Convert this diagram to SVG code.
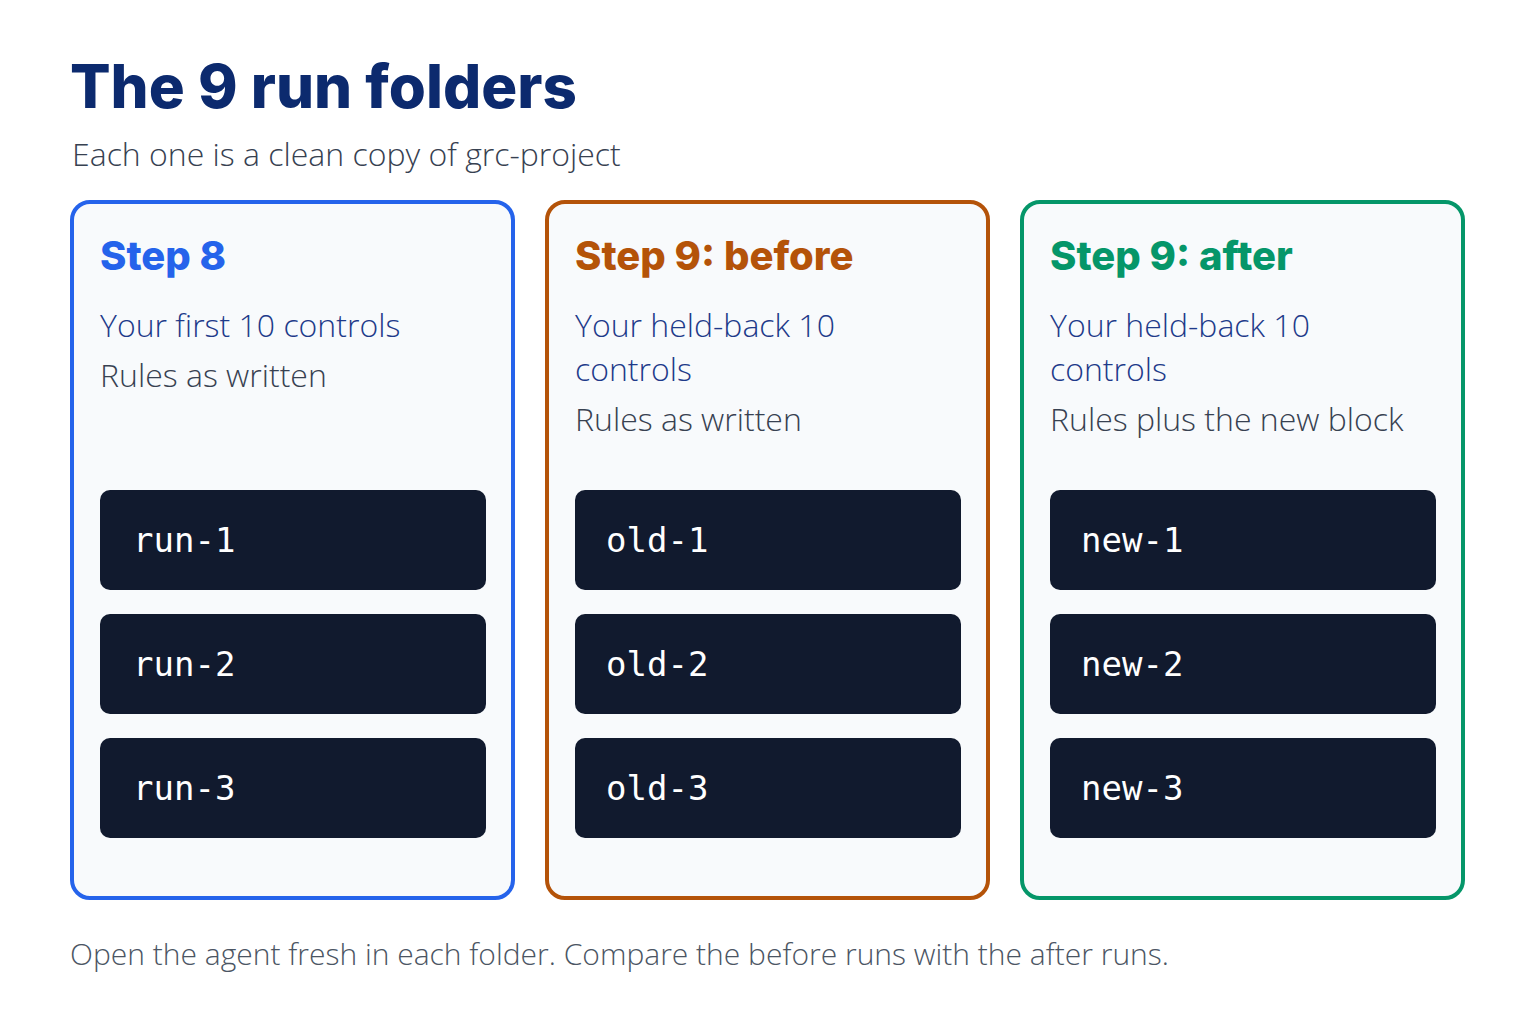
<svg xmlns="http://www.w3.org/2000/svg" width="1536" height="1024" viewBox="0 0 1536 1024">
<style>
.title{font-family:Inter,"Noto Sans",sans-serif;font-weight:800;font-size:60px;fill:#0c2a6e}
.sub{font-family:"Open Sans","Noto Sans",sans-serif;font-weight:300;font-size:32px;fill:#374151}
.card{fill:#f8fafc;stroke-width:4}
.head{font-family:Inter,"Noto Sans",sans-serif;font-weight:800;font-size:40px}
.l1{font-family:"Open Sans","Noto Sans",sans-serif;font-weight:300;font-size:32px;fill:#1e3a8a}
.l2{font-family:"Open Sans","Noto Sans",sans-serif;font-weight:300;font-size:32px;fill:#374151}
.box{fill:#111a2e}
.mono{font-family:"DejaVu Sans Mono","Liberation Mono",monospace;font-size:34px;fill:#ffffff}
.foot{font-family:"Open Sans","Noto Sans",sans-serif;font-weight:300;font-size:30px;fill:#4b5563}
</style>
<rect width="1536" height="1024" fill="#ffffff"/>
<text class="title" x="70" y="108">The 9 run folders</text>
<text class="sub" x="72" y="166">Each one is a clean copy of grc-project</text>
<g id="step8">
<rect class="card" x="72" y="202" width="441" height="696" rx="18" stroke="#2563eb"/>
<text class="head" x="100" y="270" fill="#2563eb">Step 8</text>
<text class="l1" x="100" y="337">Your first 10 controls</text>
<text class="l2" x="100" y="387">Rules as written</text>
<rect class="box" x="100" y="490" width="386" height="100" rx="10"/><text class="mono" x="133" y="552">run-1</text>
<rect class="box" x="100" y="614" width="386" height="100" rx="10"/><text class="mono" x="133" y="676">run-2</text>
<rect class="box" x="100" y="738" width="386" height="100" rx="10"/><text class="mono" x="133" y="800">run-3</text>
</g>
<g id="step9before">
<rect class="card" x="547" y="202" width="441" height="696" rx="18" stroke="#b45309"/>
<text class="head" x="575" y="270" fill="#b45309">Step 9: before</text>
<text class="l1" x="575" y="337">Your held-back 10</text>
<text class="l1" x="575" y="381">controls</text>
<text class="l2" x="575" y="431">Rules as written</text>
<rect class="box" x="575" y="490" width="386" height="100" rx="10"/><text class="mono" x="606" y="552">old-1</text>
<rect class="box" x="575" y="614" width="386" height="100" rx="10"/><text class="mono" x="606" y="676">old-2</text>
<rect class="box" x="575" y="738" width="386" height="100" rx="10"/><text class="mono" x="606" y="800">old-3</text>
</g>
<g id="step9after">
<rect class="card" x="1022" y="202" width="441" height="696" rx="18" stroke="#059669"/>
<text class="head" x="1050" y="270" fill="#059669">Step 9: after</text>
<text class="l1" x="1050" y="337">Your held-back 10</text>
<text class="l1" x="1050" y="381">controls</text>
<text class="l2" x="1050" y="431">Rules plus the new block</text>
<rect class="box" x="1050" y="490" width="386" height="100" rx="10"/><text class="mono" x="1081" y="552">new-1</text>
<rect class="box" x="1050" y="614" width="386" height="100" rx="10"/><text class="mono" x="1081" y="676">new-2</text>
<rect class="box" x="1050" y="738" width="386" height="100" rx="10"/><text class="mono" x="1081" y="800">new-3</text>
</g>
<g id="connectors"/>
<text class="foot" x="70" y="965">Open the agent fresh in each folder. Compare the before runs with the after runs.</text>
</svg>
